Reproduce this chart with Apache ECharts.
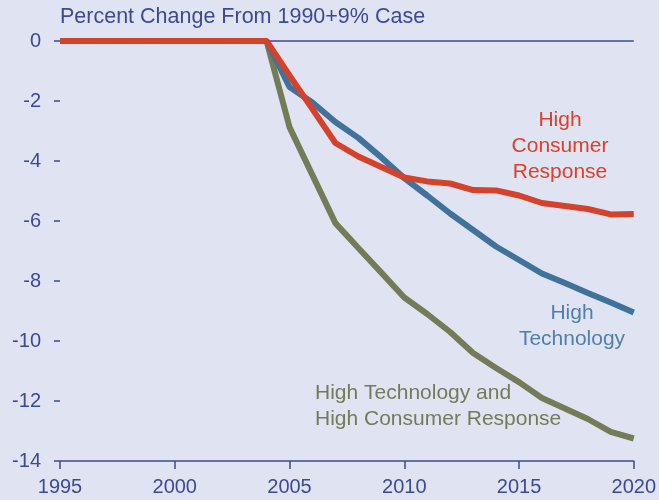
<!DOCTYPE html>
<html><head><meta charset="utf-8">
<script src="https://cdn.jsdelivr.net/npm/echarts@6/dist/echarts.min.js"></script>
<style>html,body{margin:0;padding:0;background:#e0e4f2;}#c{width:659px;height:500px;}</style>
</head><body><div id="c"></div>
<script>
const years = [1995,1996,1997,1998,1999,2000,2001,2002,2003,2004,2005,2006,2007,2008,2009,2010,2011,2012,2013,2014,2015,2016,2017,2018,2019,2020];
const highConsumer = [0,0,0,0,0,0,0,0,0,0,-1.15,-2.27,-3.4,-3.85,-4.2,-4.55,-4.68,-4.75,-4.97,-4.98,-5.15,-5.4,-5.5,-5.6,-5.78,-5.77];
const highTech = [0,0,0,0,0,0,0,0,0,0,-1.53,-2.05,-2.7,-3.23,-3.88,-4.57,-5.15,-5.75,-6.3,-6.85,-7.3,-7.75,-8.07,-8.4,-8.72,-9.05];
const combined = [0,0,0,0,0,0,0,0,0,0,-2.87,-4.47,-6.07,-6.9,-7.72,-8.55,-9.1,-9.7,-10.4,-10.9,-11.37,-11.9,-12.25,-12.6,-13.03,-13.25];
const title = 'Percent Change From 1990+9% Case';
const labelConsumer = 'High\nConsumer\nResponse';
const labelTech = 'High\nTechnology';
const labelCombined = 'High Technology and\nHigh Consumer Response';

const axisColor = '#3b4a94';
const font = '"Liberation Sans", Arial, sans-serif';
const pair = arr => years.map((y,i)=>[y,arr[i]]);
const chart = echarts.init(document.getElementById('c'));
chart.setOption({
  backgroundColor:'#e0e4f2',
  animation:false,
  textStyle:{fontFamily:font},
  grid:{left:60,right:25,top:41,bottom:39},
  xAxis:{type:'value',min:1995,max:2020,interval:5,
    axisLine:{show:true,onZero:false,lineStyle:{color:axisColor,width:1.5}},
    axisTick:{show:true,length:8,lineStyle:{color:axisColor,width:1.5}},
    axisLabel:{color:axisColor,fontSize:20,margin:16,fontFamily:font,formatter:v=>String(v)},
    splitLine:{show:false}},
  yAxis:{type:'value',min:-14,max:0,interval:2,
    axisLine:{show:false,lineStyle:{color:axisColor}},
    axisTick:{show:true,length:6,lineStyle:{color:axisColor,width:1.5}},
    axisLabel:{color:axisColor,fontSize:20,margin:19,fontFamily:font},
    splitLine:{show:false}},
  series:[
    {type:'line',data:pair(combined),symbol:'none',lineStyle:{color:'#737b57',width:6},z:2},
    {type:'line',data:pair(highTech),symbol:'none',lineStyle:{color:'#41729c',width:6},z:3},
    {type:'line',data:pair(highConsumer),symbol:'none',lineStyle:{color:'#d5422c',width:6},z:4,
      markLine:{silent:true,symbol:'none',label:{show:false},lineStyle:{color:axisColor,width:1.5,type:'solid'},data:[{yAxis:0}],z:1}}
  ],
  graphic:[
    {type:'text',x:60,y:17,style:{text:title,fill:axisColor,font:'21.5px '+font,textAlign:'left',textVerticalAlign:'middle'}},
    {type:'text',x:560,y:107,style:{text:labelConsumer,fill:'#d9412b',font:'21px '+font,lineHeight:26,textAlign:'center',textVerticalAlign:'top'}},
    {type:'text',x:572,y:300,style:{text:labelTech,fill:'#4f7fab',font:'21px '+font,lineHeight:26,textAlign:'center',textVerticalAlign:'top'}},
    {type:'text',x:315,y:380,style:{text:labelCombined,fill:'#737b57',font:'21px '+font,lineHeight:26,textAlign:'left',textVerticalAlign:'top'}}
  ]
});
</script></body></html>
